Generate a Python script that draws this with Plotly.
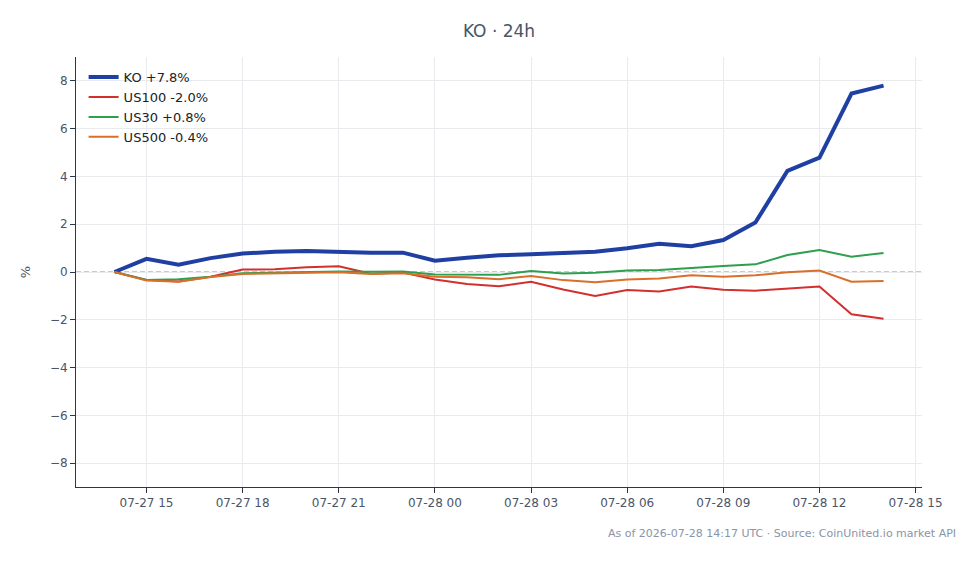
import plotly.graph_objects as go
import pandas as pd

times = pd.date_range("2026-07-27 14:00", "2026-07-28 14:00", freq="h")

ko = [0.0, 0.55, 0.30, 0.58, 0.77, 0.85, 0.88, 0.84, 0.81, 0.81, 0.47, 0.60, 0.70,
      0.74, 0.78, 0.85, 0.99, 1.18, 1.08, 1.34, 2.07, 4.23, 4.79, 7.47, 7.80]
us100 = [0.0, -0.33, -0.40, -0.20, 0.10, 0.11, 0.20, 0.24, -0.07, -0.02, -0.31, -0.50, -0.60,
         -0.41, -0.73, -1.00, -0.75, -0.82, -0.61, -0.74, -0.78, -0.71, -0.61, -1.77, -1.96]
us30 = [0.0, -0.33, -0.30, -0.20, -0.05, -0.02, 0.01, 0.02, 0.01, 0.02, -0.10, -0.10, -0.12,
        0.04, -0.06, -0.03, 0.06, 0.08, 0.18, 0.25, 0.32, 0.71, 0.92, 0.64, 0.80]
us500 = [0.0, -0.36, -0.41, -0.21, -0.08, -0.06, -0.05, -0.01, -0.08, -0.05, -0.20, -0.22, -0.30,
         -0.17, -0.34, -0.43, -0.31, -0.27, -0.14, -0.20, -0.14, -0.01, 0.06, -0.41, -0.38]

names = ["KO +7.8%", "US100 -2.0%", "US30 +0.8%", "US500 -0.4%"]
colors = ["#1f3fa3", "#d32f2f", "#2e9e4f", "#d9702a"]
widths = [4, 2, 2, 2]
series = [ko, us100, us30, us500]

yticks = [-8, -6, -4, -2, 0, 2, 4, 6, 8]

fig = go.Figure()
for name, vals, c, w in zip(names, series, colors, widths):
    fig.add_trace(go.Scatter(x=times, y=vals, mode="lines", name=name,
                             line=dict(color=c, width=w)))

fig.add_hline(y=0, line=dict(color="#8a94a6", width=1.2, dash="5px,3px"), layer="below")

font_family = "DejaVu Sans"
fig.update_layout(
    width=980, height=564,
    margin=dict(l=76, r=58, t=57, b=77),
    paper_bgcolor="white", plot_bgcolor="white",
    font=dict(family=font_family, color="#4a5568", size=12),
    title=dict(text="KO · 24h", x=0.5, xref="paper", xanchor="center",
               y=0.945, yanchor="middle", font=dict(size=17, color="#4a5568")),
    showlegend=True,
    legend=dict(x=0.009, y=0.988, xanchor="left", yanchor="top",
                bgcolor="rgba(255,255,255,0)", font=dict(size=13, color="#222222"),
                tracegroupgap=0),
)
fig.update_xaxes(
    range=["2026-07-27 12:48", "2026-07-28 15:12"],
    dtick=3 * 3600 * 1000, tickformat="%m-%d %H",
    showgrid=True, gridcolor="#e8eaee", gridwidth=1,
    showline=True, linecolor="#2d3748", linewidth=1,
    ticks="outside", ticklen=5, tickcolor="#2d3748",
    tickfont=dict(size=12, color="#4a5568"), zeroline=False,
)
fig.update_yaxes(
    range=[-9, 9], tickvals=yticks,
    showgrid=True, gridcolor="#e8eaee", gridwidth=1,
    showline=True, linecolor="#2d3748", linewidth=1,
    ticks="outside", ticklen=5, tickcolor="#2d3748",
    tickfont=dict(size=12, color="#4a5568"), zeroline=False,
    title=dict(text="%", standoff=16, font=dict(size=13, color="#4a5568")),
)
fig.add_annotation(
    text="As of 2026-07-28 14:17 UTC · Source: CoinUnited.io market API",
    xref="paper", yref="paper", x=1.042, y=-0.107, xanchor="right", yanchor="middle",
    showarrow=False, font=dict(size=11, color="#8a94a6"),
)

fig.write_html("out.html")
